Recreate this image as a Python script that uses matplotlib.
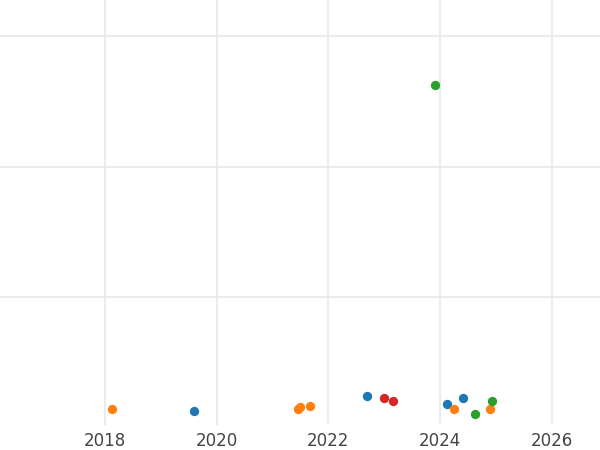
import matplotlib
matplotlib.use("Agg")
import matplotlib.pyplot as plt

blue_x = [2019.6, 2022.7, 2024.12, 2024.4]
blue_y = [0.126, 0.241, 0.18, 0.226]
orange_x = [2018.13, 2021.45, 2021.5, 2021.67, 2024.25, 2024.9]
orange_y = [0.142, 0.142, 0.157, 0.165, 0.142, 0.142]
green_x = [2023.9, 2024.63, 2024.92]
green_y = [2.625, 0.103, 0.203]
red_x = [2023.0, 2023.15]
red_y = [0.226, 0.203]
xticks = [2018, 2020, 2022, 2024, 2026]
yticks = [1, 2, 3]

fig = plt.figure(figsize=(6, 4.5), dpi=100)
ax = fig.add_axes([0, 1 - 425/450, 1, 425/450])
for xs, ys, c in [(blue_x, blue_y, "#1f77b4"), (orange_x, orange_y, "#ff7f0e"),
                  (green_x, green_y, "#2ca02c"), (red_x, red_y, "#d62728")]:
    ax.scatter(xs, ys, s=45, color=c, zorder=3, linewidths=0)
ax.set_xlim(2016.125, 2026.86)
ax.set_ylim(0.019, 3.276)
ax.set_xticks(xticks)
ax.set_xticklabels([str(t) for t in xticks])
ax.set_yticks(yticks)
ax.set_yticklabels([])
ax.tick_params(axis="both", length=0, labelsize=12, labelcolor="#444444")
ax.tick_params(axis="x", pad=5)
ax.grid(True, color="#e8e8e8", linewidth=1.2)
ax.set_axisbelow(True)
for s in ax.spines.values():
    s.set_visible(False)
fig.savefig("out.png", dpi=100)
